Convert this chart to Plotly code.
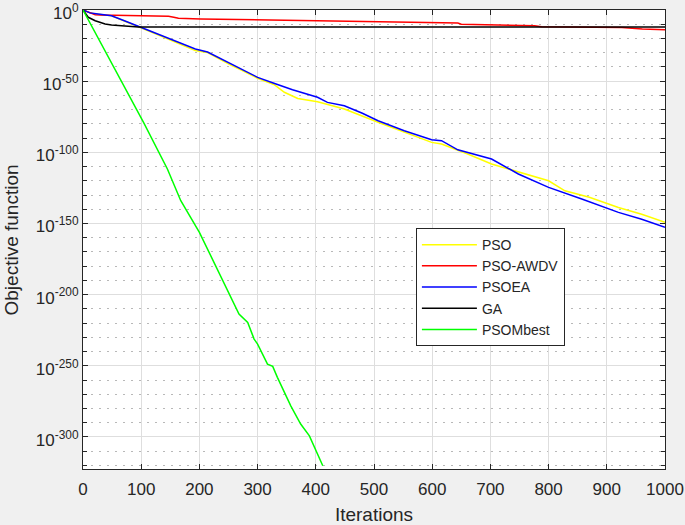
import plotly.graph_objects as go

# iterations / log10 of the objective function
pso_x = [0, 12, 26, 49, 70, 95, 135, 193, 214, 254, 273, 300, 328, 346, 369, 403, 449, 507, 576, 599, 616, 660, 702, 742, 800, 828, 870, 920, 960, 1000]
pso_e = [0, -2.0, -2.9, -4.1, -7.5, -11.6, -18.4, -28.5, -29.9, -38.7, -42.3, -48.0, -52.3, -57.8, -62.1, -64.4, -69.6, -78.9, -89.5, -93.0, -94.2, -101.0, -108.2, -112.9, -120.0, -127.0, -131.5, -138.7, -143.5, -149.2]

awdv_x = [0, 21, 30, 99, 147, 156, 164, 202, 271, 400, 547, 644, 650, 776, 788, 926, 961, 1000]
awdv_e = [0, -3.3, -3.5, -4.0, -4.4, -5.1, -5.8, -6.3, -6.8, -7.6, -8.6, -9.1, -10.0, -11.0, -11.7, -12.2, -13.4, -13.8]

psoea_x = [0, 12, 26, 49, 70, 95, 135, 193, 214, 254, 273, 300, 328, 360, 403, 420, 449, 480, 507, 552, 599, 616, 644, 702, 748, 800, 857, 920, 960, 1000]
psoea_e = [0, -2.0, -2.8, -4.0, -7.4, -11.5, -18.1, -27.4, -29.5, -37.9, -41.5, -47.3, -51.5, -56.0, -61.3, -64.9, -67.3, -72.5, -77.8, -84.8, -91.1, -91.8, -98.2, -104.7, -115.2, -124.6, -132.8, -142.2, -147.0, -152.7]

ga_x = [0, 9, 21, 38, 49, 66, 95, 150, 300, 600, 1000]
ga_e = [0, -5.1, -7.5, -9.8, -10.5, -11.0, -11.9, -12.0, -12.0, -12.0, -12.0]

mbest_x = [0, 52, 104, 145, 168, 200, 231, 248, 268, 283, 294, 300, 317, 326, 334, 357, 374, 389, 412]
mbest_e = [0, -39.1, -78.9, -111.7, -134.0, -156.2, -182.0, -196.1, -213.6, -219.5, -231.2, -234.7, -248.8, -250.4, -258.1, -278.1, -290.9, -299.2, -320.2]

x_ticks = [0, 100, 200, 300, 400, 500, 600, 700, 800, 900, 1000]
y_major_exp = [0, -50, -100, -150, -200, -250, -300]
y_minor_exp = [e for e in range(-10, -330, -10) if e % 50]

series = [
    ('PSO', pso_x, pso_e, '#ffff00'),
    ('PSO-AWDV', awdv_x, awdv_e, '#ff0000'),
    ('PSOEA', psoea_x, psoea_e, '#0000ff'),
    ('GA', ga_x, ga_e, '#000000'),
    ('PSOMbest', mbest_x, mbest_e, '#00ff00'),
]

data = []
for name, xs, es, color in series:
    data.append(go.Scatter(x=xs, y=[10.0 ** e for e in es],
                           mode='lines', name=name,
                           line=dict(color=color, width=1.5)))

axis_col = '#262626'

layout = go.Layout(
    width=685, height=525,
    paper_bgcolor='#f0f0f0',
    plot_bgcolor='#ffffff',
    margin=dict(l=83, r=20, t=10, b=56),
    font=dict(family='Liberation Sans, Arial, sans-serif', size=17, color=axis_col),
    showlegend=True,
    legend=dict(x=0.572, y=0.525, xanchor='left', yanchor='top',
                bgcolor='#ffffff', bordercolor=axis_col, borderwidth=1,
                font=dict(size=14), tracegroupgap=0, itemwidth=55),
    xaxis=dict(range=[0, 1000], tickmode='array', tickvals=x_ticks,
               ticks='inside', ticklen=5, tickcolor=axis_col,
               showline=True, linecolor=axis_col, linewidth=1, mirror='ticks',
               showgrid=True, gridcolor='#dedede', zeroline=False,
               ticklabelstandoff=5, automargin=False, ticklabeloverflow='allow',
               title=dict(text='Iterations', font=dict(size=19), standoff=11)),
    yaxis=dict(type='log', range=[-322.5, 0.02], tickmode='array',
               tickvals=[10.0 ** e for e in y_major_exp],
               ticktext=['10<sup>%d</sup>' % e for e in y_major_exp],
               ticks='inside', ticklen=5, tickcolor=axis_col,
               showline=True, linecolor=axis_col, linewidth=1, mirror='ticks',
               showgrid=True, gridcolor='#dedede', zeroline=False,
               automargin=False, ticklabeloverflow='allow', ticklabelshift=3,
               minor=dict(tickvals=[10.0 ** e for e in y_minor_exp],
                          ticks='inside', ticklen=4, tickcolor=axis_col,
                          showgrid=True, gridcolor='#b8b8b8', griddash='2px,6px')),
    annotations=[dict(text='Objective function', textangle=-90,
                      xref='paper', yref='paper', x=-0.122, y=0.5,
                      xanchor='center', yanchor='middle', showarrow=False,
                      font=dict(size=19, color=axis_col))],
)

fig = go.Figure(data=data, layout=layout)
# page body has a default 8px margin; drop it so the figure fills the window
fig.write_html("out.html", config={'displayModeBar': False},
               post_script="document.body.style.margin='0';document.body.style.background='#f0f0f0';")
